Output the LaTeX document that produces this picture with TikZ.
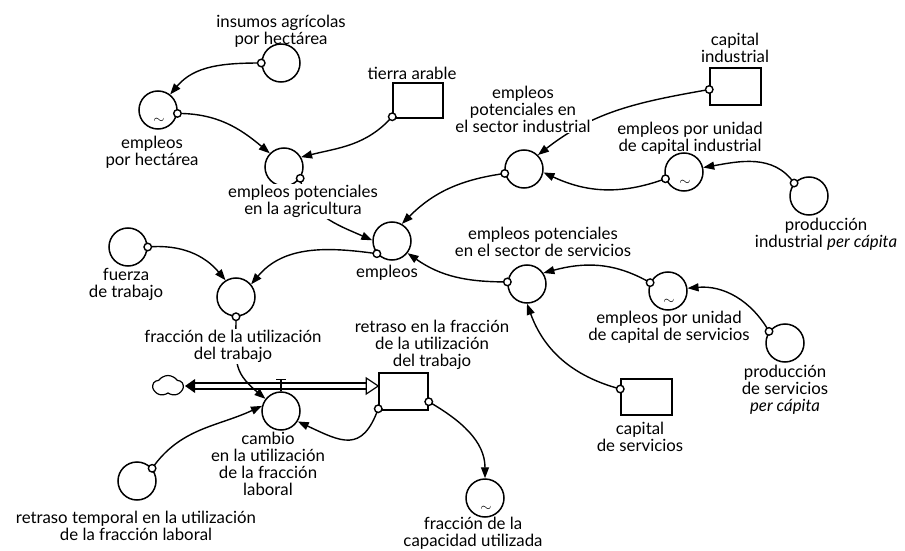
\documentclass[tikz,border=0pt]{standalone}
\usepackage{fontspec}
\setmainfont{Lato}
\usetikzlibrary{arrows.meta,shapes.symbols,calc}
\newcommand\lblfont{\fontsize{16.8}{17}\selectfont}
\begin{document}
\begin{tikzpicture}[x=1pt,y=1pt,
  var/.style={circle,draw,line width=1.5pt,minimum size=38pt,inner sep=0pt,fill=white},
  stock/.style={rectangle,draw,line width=1.5pt,fill=white,inner sep=0pt},
  lab/.style={align=center,font=\lblfont,inner sep=1pt},
  hide/.style={fill=white},
  dot/.style={circle,draw,line width=1.4pt,fill=white,minimum size=7.5pt,inner sep=0pt},
  link/.style={line width=1.4pt,-{Triangle[length=11pt,width=8pt]}},
  tl/.style={inner sep=0pt,font=\fontsize{14}{14}\selectfont}
]
\useasboundingbox (0,0) rectangle (905,550);
% auxiliaries
\node[var] (insumos) at (281,487) {};
\node[var] (eph) at (158,440) {};
\node[var] (agri) at (284,383) {};
\node[var] (empleos) at (392,309) {};
\node[var] (ind) at (524,381) {};
\node[var] (epuci) at (684,378) {};
\node[var] (pip) at (809,354) {};
\node[var] (serv) at (527,266) {};
\node[var] (epucs) at (668,259) {};
\node[var] (pspc) at (785,207) {};
\node[var] (fuerza) at (128,303) {};
\node[var] (frac) at (236,253) {};
\node[var] (cambio) at (281,139) {};
\node[var] (rtemp) at (137,69) {};
\node[var] (fcu) at (485,52) {};
% stocks
\node[stock,minimum width=50pt,minimum height=35pt] (tierra) at (418,449.5) {};
\node[stock,minimum width=51pt,minimum height=37pt] (capind) at (735.5,463.5) {};
\node[stock,minimum width=51pt,minimum height=36pt] (capserv) at (646.5,153) {};
\node[stock,minimum width=49pt,minimum height=37pt] (retbox) at (403.5,158.5) {};
% tildes
\foreach \n in {eph,epuci,epucs,fcu} \node[tl] at ($(\n.center)+(1,-11)$) {$\sim$};
% dot coordinates
\coordinate (d-ins) at (insumos.180);
\coordinate (d-eph) at (eph.-10);
\coordinate (d-tie) at ($(tierra.south west)+(0,2)$);
\coordinate (d-agr) at (agri.-35);
\coordinate (d-emp) at (empleos.-140);
\coordinate (d-cin) at ($(capind.west)+(0,-3)$);
\coordinate (d-ind) at (ind.-167);
\coordinate (d-epi) at (epuci.-160);
\coordinate (d-pip) at (pip.139);
\coordinate (d-ser) at (serv.174);
\coordinate (d-eps) at (epucs.155);
\coordinate (d-csv) at ($(capserv.west)+(0,8)$);
\coordinate (d-psp) at (pspc.144);
\coordinate (d-fue) at (fuerza.0);
\coordinate (d-fra) at (frac.-90);
\coordinate (d-rbl) at ($(retbox.south west)+(0,2)$);
\coordinate (d-rbr) at ($(retbox.south east)+(0,9)$);
\coordinate (d-rte) at (rtemp.40);
% connectors
\draw[link] (d-ins) to[out=180,in=50] (eph.52);
\draw[link] (d-eph) to[out=0,in=140] (agri.136);
\draw[link] (d-tie) to[out=228,in=14] (agri.30);
\draw[link] (d-agr) to[out=-80,in=156] (empleos.178);
\draw[link] (d-cin) to[out=190,in=38] (ind.45);
\draw[link] (d-ind) to[out=188,in=45] (empleos.60);
\draw[link] (d-epi) to[out=200,in=-25] (ind.-10);
\draw[link] (d-pip) to[out=125,in=10] (epuci.13);
\draw[link] (d-ser) to[out=180,in=-35] (empleos.-38);
\draw[link] (d-eps) to[out=150,in=15] (serv.34);
\draw[link] (d-csv) to[out=165,in=-70] (serv.-90);
\draw[link] (d-psp) to[out=120,in=5] (epucs.8);
\draw[link] (d-fue) to[out=5,in=130] (frac.122);
\draw[link] (d-emp) to[out=172,in=50] (frac.40);
\draw[link] (d-fra) to[out=-90,in=140,looseness=1.3] (cambio.142);
\draw[link] (d-rbl) to[out=250,in=-25,looseness=1.5] (cambio.-32);
\draw[link] (d-rte) to[out=55,in=205] (cambio.165);
\draw[link] (d-rbr) to[out=-30,in=90] (fcu.90);
% flow pipe
\node[cloud,draw,cloud puffs=5,cloud puff arc=110,aspect=1.4,minimum width=30pt,minimum height=21pt,inner sep=0pt,line width=1.2pt] (cloud) at (168,164) {};
\coordinate (pA) at (cloud.east);
\coordinate (pB) at (retbox.west |- pA);
\draw[line width=1.2pt] (cambio.north) -- ++(0,12) ++(-5,0) -- ++(10,0);
\draw[line width=1.2pt] ($(pA)+(10,3)$) -- ($(pB)+(-12,3)$) ($(pA)+(10,-3)$) -- ($(pB)+(-12,-3)$);
\fill ($(pA)+(1,0)$) -- ($(pA)+(11,7)$) -- ($(pA)+(11,-7)$) -- cycle;
\draw[line width=1.2pt,fill=white,line join=miter] (pB) -- ($(pB)+(-12,8)$) -- ($(pB)+(-12,-8)$) -- cycle;
% labels
\node[lab] (l-ins) at (281,519) {insumos agrícolas\\por hectárea};
\node[lab] (l-eph) at (152,397.5) {empleos\\por hectárea};
\node[lab,hide] (l-agr) at (303,348.5) {empleos potenciales\\en la agricultura};
\node[lab] (l-tie) at (412,477) {tierra arable};
\node[lab,hide] (l-ind) at (523,441) {empleos\\potenciales en\\el sector industrial};
\node[lab] (l-cin) at (735,502) {capital\\industrial};
\node[lab] (l-epi) at (690,412) {empleos por unidad\\de capital industrial};
\node[lab] (l-pip) at (826,315.5) {producción\\industrial \textit{per cápita}};
\node[lab] (l-emp) at (387,277) {empleos};
\node[lab] (l-ser) at (543,308.5) {empleos potenciales\\en el sector de servicios};
\node[lab] (l-eps) at (669,222.5) {empleos por unidad\\de capital de servicios};
\node[lab] (l-psp) at (785,160) {producción\\de servicios\\\textit{per cápita}};
\node[lab] (l-csv) at (640,113.5) {capital\\de servicios};
\node[lab] (l-fue) at (126,265.5) {fuerza\\de trabajo};
\node[lab,hide] (l-fra) at (233,203.5) {fracción de la utilización\\del trabajo};
\node[lab] (l-ret) at (432,205) {retraso en la fracción\\de la utilización\\del trabajo};
\node[lab] (l-cam) at (268,86.5) {cambio\\en la utilización\\de la fracción\\laboral};
\node[lab] (l-rte) at (136,24) {retraso temporal en la utilización\\de la fracción laboral};
\node[lab] (l-fcu) at (473,16.5) {fracción de la\\capacidad utilizada};
% dots
\foreach \d in {d-ins,d-eph,d-tie,d-agr,d-emp,d-cin,d-ind,d-epi,d-pip,d-ser,d-eps,d-csv,d-psp,d-fue,d-fra,d-rbl,d-rbr,d-rte}
  \node[dot] at (\d) {};
\end{tikzpicture}
\end{document}
